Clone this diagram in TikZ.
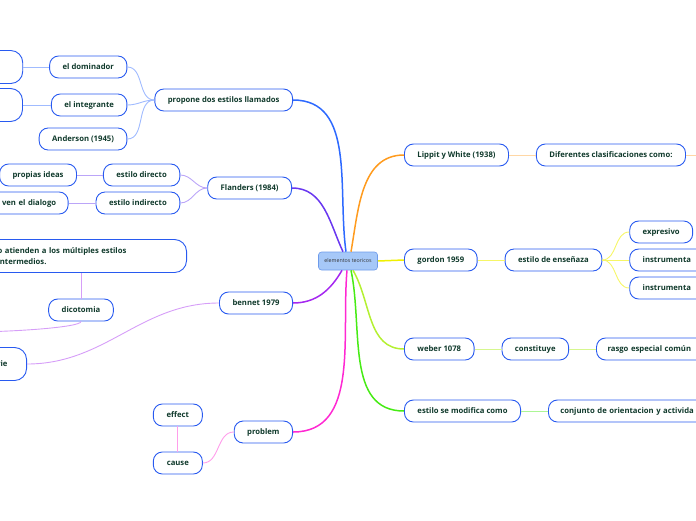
\documentclass[tikz,border=0pt]{standalone}
\usepackage{fontspec}
\setmainfont{Open Sans}
\usetikzlibrary{positioning}
\definecolor{nodeborder}{RGB}{40, 90, 240}
\definecolor{nodetext}{RGB}{16, 58, 44}
\definecolor{centerfill}{RGB}{166, 200, 248}
\definecolor{centerborder}{RGB}{110, 155, 235}
\definecolor{blueline}{RGB}{45, 105, 255}
\definecolor{violetline}{RGB}{105, 55, 240}
\definecolor{purpleline}{RGB}{165, 40, 240}
\definecolor{magentaline}{RGB}{255, 40, 210}
\definecolor{orangeline}{RGB}{255, 155, 30}
\definecolor{yellowline}{RGB}{240, 240, 0}
\definecolor{limeline}{RGB}{180, 240, 50}
\definecolor{greenline}{RGB}{70, 235, 20}
\tikzset{
  topic/.style={
    rectangle, rounded corners=9pt, draw=nodeborder, fill=white, line width=0.9pt,
    minimum height=22pt, inner xsep=13pt, inner ysep=0pt,
    text=nodetext, font=\bfseries\fontsize{7.7}{10.5}\selectfont
  },
  tallbox/.style={topic, minimum height=33pt, rounded corners=12pt},
  centertopic/.style={
    rectangle, rounded corners=3pt, draw=centerborder, fill=centerfill, line width=0.6pt,
    minimum width=59pt, minimum height=18pt, inner sep=1pt,
    font=\fontsize{5.3}{6}\selectfont, text=black!80
  },
  mainline/.style={line width=1.5pt},
  subline/.style={line width=0.9pt}
}

\begin{document}
\begin{tikzpicture}[x=1pt, y=-1pt]

  \useasboundingbox (0,0) rectangle (696,520);
  \clip (0,0) rectangle (696,520);

  % Centre
  \node[centertopic] (center) at (348,261) {elementos teoricos};

  % Left branches
  \node[topic, anchor=east] (propone) at (293,100) {propone dos estilos llamados};
  \node[topic, left=27pt of propone, yshift=33pt] (dominador) {el dominador};
  \node[topic, left=27pt of propone, yshift=-5pt] (integrante) {el integrante};
  \node[topic, left=27pt of propone, yshift=-39pt] (anderson) {Anderson (1945)};
  \node[tallbox, left=26pt of dominador, minimum width=90pt] (domleft) {};
  \node[tallbox, left=28pt of integrante, minimum width=90pt] (intleft) {};

  \node[topic, anchor=east] (flanders) at (292,188) {Flanders (1984)};
  \node[topic, left=27pt of flanders, yshift=13pt] (directo) {estilo directo};
  \node[topic, left=27pt of flanders, yshift=-15pt] (indirecto) {estilo indirecto};
  \node[topic, left=26pt of directo] (ideas) {propias ideas};
  \node[topic, left=27pt of indirecto, text width=80pt, align=right, inner xsep=12pt] (dialogo) {ven el dialogo};

  \node[topic, anchor=east] (bennet) at (293,303) {bennet 1979};
  \node[tallbox, anchor=east, text width=70pt, align=right, inner xsep=19pt] (rie) at (27,364) {rie};
  \node[tallbox, anchor=east, text width=176pt, align=left] (atienden) at (187,256)
    {o atienden a los múltiples estilos\\intermedios.};
  \node[topic] (dicotomia) at (81,310) {dicotomia};
  \coordinate (dicoend) at (-30,332);

  \node[topic, anchor=east] (problem) at (293,432) {problem};
  \node[topic, left=31pt of problem, yshift=17pt, minimum width=49pt] (effect) {effect};
  \node[topic, left=31pt of problem, yshift=-31pt, minimum width=49pt] (cause) {cause};

  % Right branches
  \node[topic, anchor=west] (lippit) at (404,155) {Lippit y White (1938)};
  \node[topic, right=27pt of lippit] (diferentes) {Diferentes clasificaciones como:};
  \coordinate (difend) at (720,155);

  \node[topic, anchor=west] (gordon) at (404,260) {gordon 1959};
  \node[topic, right=27pt of gordon] (ensenaza) {estilo de enseñaza};
  \node[topic, right=27pt of ensenaza, yshift=28pt] (expresivo) {expresivo};
  \node[topic, right=27pt of ensenaza, text width=60pt, align=left] (instrA) {instrumenta};
  \node[topic, right=27pt of ensenaza, yshift=-28pt, text width=60pt, align=left] (instrB) {instrumenta};

  \node[topic, anchor=west] (weber) at (404,349) {weber 1078};
  \node[topic, right=27pt of weber] (constituye) {constituye};
  \node[topic, right=27pt of constituye, text width=110pt, align=left, inner xsep=11pt] (rasgo) {rasgo especial común};

  \node[topic, anchor=west] (modifica) at (404,411) {estilo se modifica como};
  \node[topic, right=27pt of modifica, text width=170pt, align=left, inner xsep=12pt] (conjunto) {conjunto de orientacion y activida};

  % Main connectors
  \draw[mainline, blueline] ([xshift=-2pt]center.north) to[out=98, in=0] (propone.east);
  \draw[mainline, violetline] ([xshift=-5pt]center.north) to[out=115, in=0] (flanders.east);
  \draw[mainline, orangeline] ([xshift=3pt]center.north) to[out=80, in=180] (lippit.west);
  \draw[mainline, yellowline] (center.east) -- (gordon.west);
  \draw[mainline, limeline] ([xshift=5pt]center.south) to[out=-60, in=180] (weber.west);
  \draw[mainline, greenline] ([xshift=3pt]center.south) to[out=-78, in=180] (modifica.west);
  \draw[mainline, purpleline] ([xshift=-6pt]center.south) to[out=-120, in=0] (bennet.east);
  \draw[mainline, magentaline] ([xshift=-1pt]center.south) to[out=-95, in=0] (problem.east);

  % Sub connectors
  \draw[subline, blueline!45] (propone.west) to[out=180, in=0] (dominador.east);
  \draw[subline, blueline!45] (propone.west) to[out=180, in=0] (integrante.east);
  \draw[subline, blueline!45] (propone.west) to[out=180, in=0] (anderson.east);
  \draw[subline, blueline!45] (dominador.west) -- (domleft.east);
  \draw[subline, blueline!45] (integrante.west) -- (intleft.east);

  \draw[subline, violetline!45] (flanders.west) to[out=180, in=0] (directo.east);
  \draw[subline, violetline!45] (flanders.west) to[out=180, in=0] (indirecto.east);
  \draw[subline, violetline!45] (directo.west) -- (ideas.east);
  \draw[subline, violetline!45] (indirecto.west) -- (dialogo.east);

  \draw[subline, purpleline!45] (bennet.west) to[out=180, in=0] (rie.east);
  \draw[subline, purpleline!45] (dicotomia.north) -- (dicotomia.north |- atienden.south);
  \draw[subline, purpleline!45] (dicotomia.south) to[out=-90, in=0, out distance=6pt, in distance=40pt] (dicoend);

  \draw[subline, magentaline!45] (problem.west) to[out=180, in=0] (cause.east);
  \draw[subline, magentaline!45] (effect) -- (cause);

  \draw[subline, orangeline!40] (lippit.east) -- (diferentes.west);
  \draw[subline, orangeline!40] (diferentes.east) -- (difend);

  \draw[subline, yellowline!60] (gordon.east) -- (ensenaza.west);
  \draw[subline, yellowline!60] (ensenaza.east) to[out=0, in=180] (expresivo.west);
  \draw[subline, yellowline!60] (ensenaza.east) -- (instrA.west);
  \draw[subline, yellowline!60] (ensenaza.east) to[out=0, in=180] (instrB.west);

  \draw[subline, limeline!55] (weber.east) -- (constituye.west);
  \draw[subline, limeline!55] (constituye.east) -- (rasgo.west);

  \draw[subline, greenline!45] (modifica.east) -- (conjunto.west);

\end{tikzpicture}
\end{document}
